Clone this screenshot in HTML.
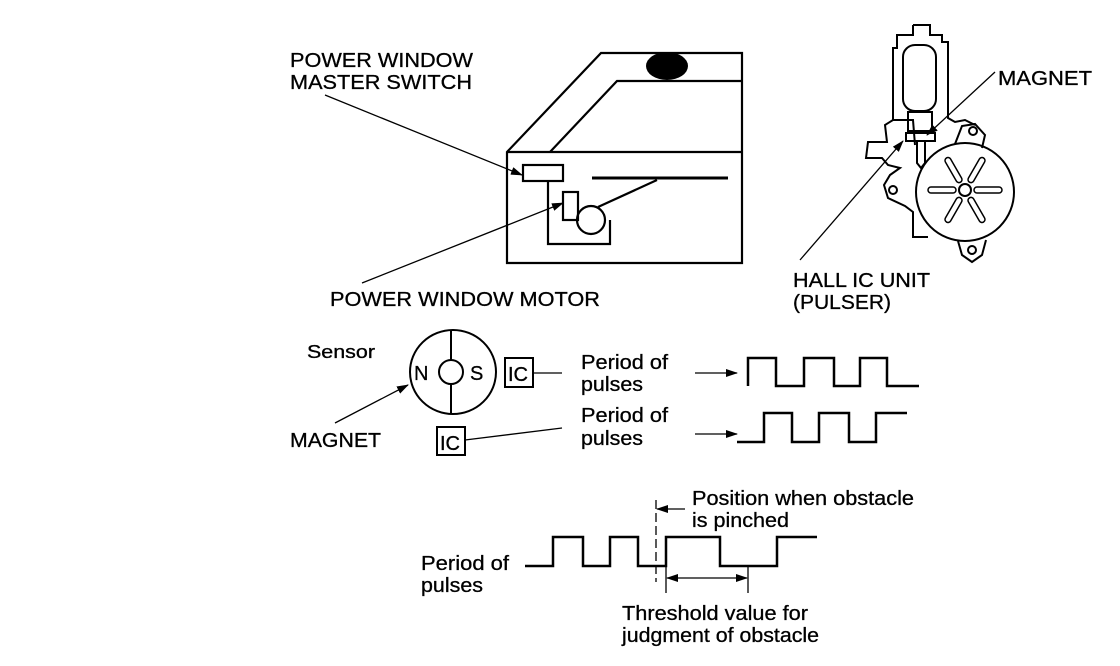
<!DOCTYPE html>
<html><head><style>
body{margin:0;background:#fff;}
svg{display:block;}
text{font-family:"Liberation Sans",sans-serif;fill:#000;stroke:#000;stroke-width:0.3;}
</style></head><body>
<svg width="1120" height="666" viewBox="0 0 1120 666" xmlns="http://www.w3.org/2000/svg">
<defs>
<marker id="ah" markerWidth="12" markerHeight="8" refX="11" refY="4" orient="auto" markerUnits="userSpaceOnUse">
<path d="M0,0 L12,4 L0,8 z" fill="#000"/></marker>
<marker id="ahs" markerWidth="12" markerHeight="8" refX="1" refY="4" orient="auto" markerUnits="userSpaceOnUse">
<path d="M12,0 L0,4 L12,8 z" fill="#000"/></marker>
</defs>
<g fill="none" stroke="#000" stroke-width="2.2">
<path d="M507,152 L601,53 L742,53 L742,263 L507,263 Z"/>
<line x1="507" y1="152" x2="742" y2="152"/>
<path d="M550,152 L617,81 L742,81"/>
<rect x="523" y="165" width="40" height="16"/>
<path d="M548,181 L548,244 L610,244 L610,220"/>
<rect x="563" y="192" width="15" height="28"/>
<circle cx="591" cy="220" r="14"/>
<line x1="598" y1="207" x2="657" y2="180"/>
<line x1="592" y1="178" x2="728" y2="178" stroke-width="3"/>
</g>
<ellipse cx="667" cy="66" rx="21" ry="14" fill="#000"/>
<g stroke="#000" stroke-width="1.3" fill="none">
<line x1="325" y1="95" x2="522" y2="175" marker-end="url(#ah)"/>
<line x1="362" y1="283" x2="563" y2="203" marker-end="url(#ah)"/>
</g>
<text x="290" y="67" font-size="20" textLength="183" lengthAdjust="spacingAndGlyphs">POWER WINDOW</text>
<text x="290" y="89" font-size="20" textLength="182" lengthAdjust="spacingAndGlyphs">MASTER SWITCH</text>
<text x="330" y="306" font-size="20" textLength="270" lengthAdjust="spacingAndGlyphs">POWER WINDOW MOTOR</text>

<g fill="none" stroke="#000" stroke-width="2">
<path d="M913,25 L930,25 L930,35 L942,35 L942,42 L948,42 L948,118 L955,122 L965,120 L975,125 M915,145 L913,120 L893,120 L893,48 L897,48 L897,35 L913,35 L913,25"/>
<path d="M893,120 L885,125 L887,142 L868,142 L866,158 L882,158 L888,165 L900,168 L890,175 L884,185 L888,198 L905,206 L913,212 L913,237 L928,237"/>
<circle cx="893" cy="190" r="4"/>
<rect x="903" y="45" width="33" height="66" rx="12"/>
<rect x="908" y="112" width="24" height="19"/>
<rect x="906" y="133" width="29" height="8"/>
<path d="M917,141 L917,163 L921,168 L925,163 L925,141"/>
<circle cx="965" cy="192" r="49"/>
<path d="M955,144 L962,126 L975,124 L985,135 L982,148"/>
<circle cx="973" cy="131" r="4"/>
<path d="M958,241 L962,255 L972,262 L982,255 L986,240"/>
<circle cx="972" cy="250" r="4"/>
<circle cx="965" cy="190" r="6"/>
<g stroke-width="1.5">
<rect x="974" y="187" width="28" height="6" rx="3"/>
<rect x="974" y="187" width="28" height="6" rx="3" transform="rotate(180 965 190)"/>
<rect x="974" y="187" width="28" height="6" rx="3" transform="rotate(60 965 190)"/>
<rect x="974" y="187" width="28" height="6" rx="3" transform="rotate(120 965 190)"/>
<rect x="974" y="187" width="28" height="6" rx="3" transform="rotate(-60 965 190)"/>
<rect x="974" y="187" width="28" height="6" rx="3" transform="rotate(-120 965 190)"/>
</g>
</g>
<g stroke="#000" stroke-width="1.3">
<line x1="995" y1="72" x2="927" y2="135" marker-end="url(#ah)"/>
<line x1="800" y1="260" x2="903" y2="141" marker-end="url(#ah)"/>
</g>
<text x="998" y="85" font-size="20" textLength="94" lengthAdjust="spacingAndGlyphs">MAGNET</text>
<text x="793" y="287" font-size="20" textLength="137" lengthAdjust="spacingAndGlyphs">HALL IC UNIT</text>
<text x="793" y="309" font-size="20" textLength="98" lengthAdjust="spacingAndGlyphs">(PULSER)</text>

<text x="307" y="358" font-size="18" textLength="68" lengthAdjust="spacingAndGlyphs">Sensor</text>
<g fill="none" stroke="#000" stroke-width="2">
<ellipse cx="453" cy="372" rx="43" ry="42"/>
<circle cx="451" cy="372" r="12"/>
<line x1="451" y1="330" x2="451" y2="360"/>
<line x1="451" y1="384" x2="451" y2="414"/>
<rect x="505" y="358" width="28" height="29"/>
<rect x="437" y="427" width="28" height="28"/>
</g>
<text x="414" y="380" font-size="20">N</text>
<text x="470" y="380" font-size="20">S</text>
<text x="508" y="381" font-size="20">IC</text>
<text x="440" y="450" font-size="20">IC</text>
<g stroke="#000" stroke-width="1.3">
<line x1="533" y1="373" x2="562" y2="373"/>
<line x1="465" y1="440" x2="562" y2="428"/>
<line x1="335" y1="423" x2="408" y2="385" marker-end="url(#ah)"/>
<line x1="695" y1="373" x2="737" y2="373" marker-end="url(#ah)"/>
<line x1="695" y1="434" x2="737" y2="434" marker-end="url(#ah)"/>
</g>
<text x="290" y="447" font-size="20" textLength="91" lengthAdjust="spacingAndGlyphs">MAGNET</text>
<text x="581" y="369" font-size="20" textLength="87" lengthAdjust="spacingAndGlyphs">Period of</text>
<text x="581" y="391" font-size="20" textLength="62" lengthAdjust="spacingAndGlyphs">pulses</text>
<text x="581" y="422" font-size="20" textLength="87" lengthAdjust="spacingAndGlyphs">Period of</text>
<text x="581" y="445" font-size="20" textLength="62" lengthAdjust="spacingAndGlyphs">pulses</text>
<g fill="none" stroke="#000" stroke-width="2.5">
<path d="M748,386 L748,358 L776,358 L776,386 L804,386 L804,358 L834,358 L834,386 L860,386 L860,358 L887,358 L887,386 L919,386"/>
<path d="M737,442 L764,442 L764,413 L792,413 L792,442 L819,442 L819,413 L849,413 L849,442 L876,442 L876,413 L907,413"/>
<path d="M525,566 L553,566 L553,537 L583,537 L583,566 L610,566 L610,537 L638,537 L638,566 L666,566 L666,537 L720,537 L720,566 L777,566 L777,537 L817,537"/>
</g>
<g stroke="#000" stroke-width="1.3" fill="none">
<line x1="656" y1="500" x2="656" y2="582" stroke-dasharray="9,4"/>
<line x1="685" y1="509" x2="657" y2="509" marker-end="url(#ah)"/>
<line x1="666" y1="566" x2="666" y2="593"/>
<line x1="748" y1="566" x2="748" y2="593"/>
<line x1="667" y1="578" x2="747" y2="578" marker-start="url(#ahs)" marker-end="url(#ah)"/>
</g>
<text x="692" y="505" font-size="20" textLength="222" lengthAdjust="spacingAndGlyphs">Position when obstacle</text>
<text x="692" y="527" font-size="20" textLength="97" lengthAdjust="spacingAndGlyphs">is pinched</text>
<text x="421" y="570" font-size="20" textLength="88" lengthAdjust="spacingAndGlyphs">Period of</text>
<text x="421" y="592" font-size="20" textLength="62" lengthAdjust="spacingAndGlyphs">pulses</text>
<text x="622" y="620" font-size="20" textLength="186" lengthAdjust="spacingAndGlyphs">Threshold value for</text>
<text x="622" y="642" font-size="20" textLength="197" lengthAdjust="spacingAndGlyphs">judgment of obstacle</text>
</svg>
</body></html>
